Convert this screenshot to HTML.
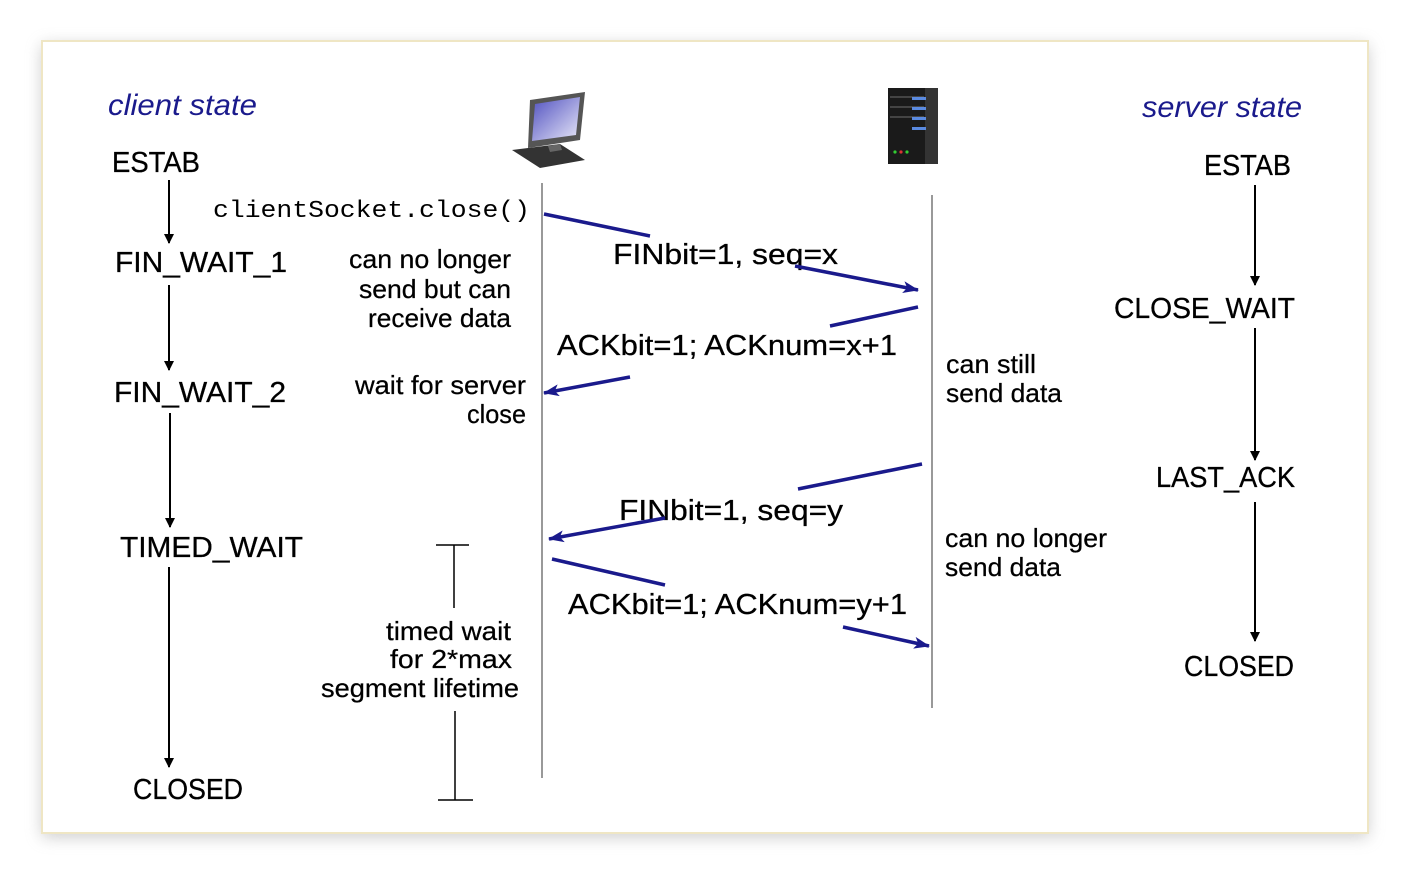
<!DOCTYPE html>
<html><head><meta charset="utf-8"><style>
html,body{margin:0;padding:0;background:#fff;width:1410px;height:876px;overflow:hidden}
svg{display:block}
text{font-family:"Liberation Sans",sans-serif;fill:#000}
</style></head><body>
<svg width="1410" height="876" viewBox="0 0 1410 876" xmlns="http://www.w3.org/2000/svg">
<defs>
<filter id="sh" x="-5%" y="-5%" width="110%" height="112%"><feGaussianBlur stdDeviation="8"/></filter>
<marker id="ah" markerWidth="16" markerHeight="12" refX="15" refY="6" orient="auto" markerUnits="userSpaceOnUse"><path d="M0,0 L16,6 L0,12 L4,6 Z" fill="#1a1a8c"/></marker>
<marker id="bh" markerWidth="10" markerHeight="10" refX="9" refY="5" orient="auto" markerUnits="userSpaceOnUse"><path d="M0,0 L10,5 L0,10 Z" fill="#000"/></marker>
<linearGradient id="scr" x1="0" y1="0" x2="1" y2="1"><stop offset="0" stop-color="#5050c0"/><stop offset="1" stop-color="#e8e8f8"/></linearGradient>
</defs>
<rect x="42" y="45" width="1326" height="792" fill="#999" opacity="0.5" filter="url(#sh)"/>
<rect x="42" y="41" width="1326" height="792" fill="#fff" stroke="#efe6c4" stroke-width="2"/>

<text x="108" y="115" font-size="30" font-style="italic" style="fill:#1a1a8c" textLength="149" lengthAdjust="spacingAndGlyphs">client state</text>
<text x="1142" y="117" font-size="30" font-style="italic" style="fill:#1a1a8c" textLength="160" lengthAdjust="spacingAndGlyphs">server state</text>

<g>
<polygon points="530,100 585,92 580,140 528,148" fill="#555"/>
<polygon points="535,104 580,97 576,135 532,141" fill="url(#scr)"/>
<polygon points="512,150 560,144 585,160 540,168" fill="#333"/>
<polygon points="548,146 560,144 562,150 550,152" fill="#666"/>
</g>
<g>
<rect x="888" y="88" width="50" height="76" fill="#1a1a1a"/>
<rect x="925" y="88" width="13" height="76" fill="#333"/>
<rect x="890" y="96" width="34" height="2" fill="#444"/>
<rect x="890" y="106" width="34" height="2" fill="#444"/>
<rect x="890" y="116" width="34" height="2" fill="#444"/>
<rect x="912" y="97" width="14" height="3" fill="#5a8ae0"/>
<rect x="912" y="107" width="14" height="3" fill="#5a8ae0"/>
<rect x="912" y="117" width="14" height="3" fill="#5a8ae0"/>
<rect x="912" y="127" width="14" height="3" fill="#5a8ae0"/>
<circle cx="895" cy="152" r="1.6" fill="#3c3"/><circle cx="901" cy="152" r="1.6" fill="#d33"/><circle cx="907" cy="152" r="1.6" fill="#3c3"/>
</g>

<line x1="542" y1="183" x2="542" y2="778" stroke="#999" stroke-width="2"/>
<line x1="932" y1="195" x2="932" y2="708" stroke="#999" stroke-width="2"/>

<g font-size="29" style="stroke:#000;stroke-width:0.3">
<text x="112" y="172" textLength="88" lengthAdjust="spacingAndGlyphs">ESTAB</text>
<text x="115" y="272" textLength="172" lengthAdjust="spacingAndGlyphs">FIN_WAIT_1</text>
<text x="114" y="402" textLength="172" lengthAdjust="spacingAndGlyphs">FIN_WAIT_2</text>
<text x="120" y="557" textLength="183" lengthAdjust="spacingAndGlyphs">TIMED_WAIT</text>
<text x="133" y="799" textLength="110" lengthAdjust="spacingAndGlyphs">CLOSED</text>
<text x="1204" y="175" textLength="87" lengthAdjust="spacingAndGlyphs">ESTAB</text>
<text x="1114" y="318" textLength="181" lengthAdjust="spacingAndGlyphs">CLOSE_WAIT</text>
<text x="1156" y="487" textLength="139" lengthAdjust="spacingAndGlyphs">LAST_ACK</text>
<text x="1184" y="676" textLength="110" lengthAdjust="spacingAndGlyphs">CLOSED</text>
</g>
<g stroke="#000" stroke-width="2" marker-end="url(#bh)">
<line x1="169" y1="180" x2="169" y2="243"/>
<line x1="169" y1="285" x2="169" y2="370"/>
<line x1="170" y1="413" x2="170" y2="527"/>
<line x1="169" y1="567" x2="169" y2="767"/>
<line x1="1255" y1="185" x2="1255" y2="285"/>
<line x1="1255" y1="328" x2="1255" y2="460"/>
<line x1="1255" y1="502" x2="1255" y2="641"/>
</g>

<text x="213" y="217" font-size="24" style="font-family:'Liberation Mono',monospace" textLength="317" lengthAdjust="spacingAndGlyphs">clientSocket.close()</text>

<g font-size="26" style="stroke:#000;stroke-width:0.25">
<text x="349" y="268" textLength="162" lengthAdjust="spacingAndGlyphs">can no longer</text>
<text x="359" y="298" textLength="152" lengthAdjust="spacingAndGlyphs">send but can</text>
<text x="368" y="327" textLength="143" lengthAdjust="spacingAndGlyphs">receive data</text>
<text x="355" y="394" textLength="171" lengthAdjust="spacingAndGlyphs">wait for server</text>
<text x="467" y="423" textLength="59" lengthAdjust="spacingAndGlyphs">close</text>
<text x="946" y="373" textLength="90" lengthAdjust="spacingAndGlyphs">can still</text>
<text x="946" y="402" textLength="116" lengthAdjust="spacingAndGlyphs">send data</text>
<text x="945" y="547" textLength="162" lengthAdjust="spacingAndGlyphs">can no longer</text>
<text x="945" y="576" textLength="116" lengthAdjust="spacingAndGlyphs">send data</text>
<text x="386" y="640" textLength="125" lengthAdjust="spacingAndGlyphs">timed wait</text>
<text x="390" y="668" textLength="122" lengthAdjust="spacingAndGlyphs">for 2*max</text>
<text x="321" y="697" textLength="198" lengthAdjust="spacingAndGlyphs">segment lifetime</text>
</g>
<g font-size="29" style="stroke:#000;stroke-width:0.3">
<text x="613" y="264" textLength="225" lengthAdjust="spacingAndGlyphs">FINbit=1, seq=x</text>
<text x="557" y="355" textLength="340" lengthAdjust="spacingAndGlyphs">ACKbit=1; ACKnum=x+1</text>
<text x="619" y="520" textLength="224" lengthAdjust="spacingAndGlyphs">FINbit=1, seq=y</text>
<text x="568" y="614" textLength="339" lengthAdjust="spacingAndGlyphs">ACKbit=1; ACKnum=y+1</text>
</g>

<g stroke="#000" stroke-width="1.5">
<line x1="436" y1="545" x2="469" y2="545"/>
<line x1="454" y1="545" x2="454" y2="608"/>
<line x1="455" y1="711" x2="455" y2="800"/>
<line x1="438" y1="800" x2="473" y2="800"/>
</g>

<g stroke="#1a1a8c" stroke-width="3.5" fill="none">
<line x1="544" y1="214" x2="650" y2="236"/>
<line x1="795" y1="266" x2="918" y2="290" marker-end="url(#ah)"/>
<line x1="918" y1="307" x2="830" y2="326"/>
<line x1="630" y1="377" x2="544" y2="393" marker-end="url(#ah)"/>
<line x1="922" y1="464" x2="798" y2="489"/>
<line x1="665" y1="518" x2="549" y2="539" marker-end="url(#ah)"/>
<line x1="552" y1="559" x2="665" y2="585"/>
<line x1="843" y1="627" x2="929" y2="646" marker-end="url(#ah)"/>
</g>
</svg>
</body></html>
